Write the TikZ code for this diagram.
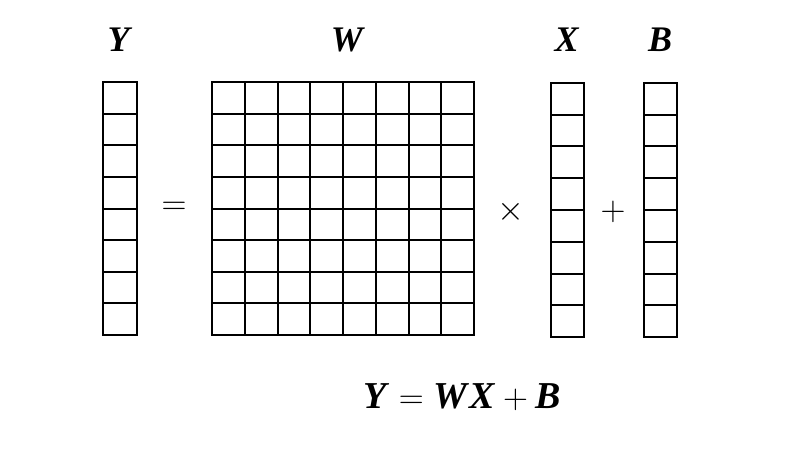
\documentclass[tikz,border=0pt]{standalone}
\usepackage{fontspec}
\setmainfont{Liberation Serif}
\usetikzlibrary{positioning}

\newcommand{\mv}[1]{\textbf{\textit{#1}}}

\tikzset{
    lbl/.style={font=\fontsize{18}{22}\selectfont, inner sep=0pt},
    cell/.style={line width=1pt, color=black}
}

\begin{document}
\begin{tikzpicture}[x=0.5pt, y=-0.5pt]
        \useasboundingbox (0,0) rectangle (796,454);

        % Y column
        \draw [cell] (103,82) rectangle (137,335);
        \foreach \i in {1,...,7}
            \draw [cell] (103,82+\i*31.625) -- (137,82+\i*31.625);

        % W matrix
        \draw [cell] (212,82) rectangle (474,335);
        \foreach \i in {1,...,7} {
            \draw [cell] (212,82+\i*31.625) -- (474,82+\i*31.625);
            \draw [cell] (212+\i*32.75,82) -- (212+\i*32.75,335);
        }

        % X and B columns
        \foreach \x in {551,644} {
            \draw [cell] (\x,83) rectangle (\x+33,337);
            \foreach \i in {1,...,7}
                \draw [cell] (\x,83+\i*31.75) -- (\x+33,83+\i*31.75);
        }

        \node[lbl] (labY) at (120,40) {\mv{Y}};
        \node[lbl] (labW) at (348,40) {\mv{W}};
        \node[lbl] (labX) at (567,40) {\mv{X}};
        \node[lbl] (labB) at (660,40) {\mv{B}};

        \node[lbl] (eq) at (174,208) {$=$};
        \node[lbl] (times) at (511,212) {$\times$};
        \node[lbl] (plus) at (613,212) {$+$};

        \node[lbl, font=\fontsize{19}{23}\selectfont] (formula) at (462,397) {$\mv{Y}=\mv{W}\mv{X}+\mv{B}$};
\end{tikzpicture}
\end{document}
